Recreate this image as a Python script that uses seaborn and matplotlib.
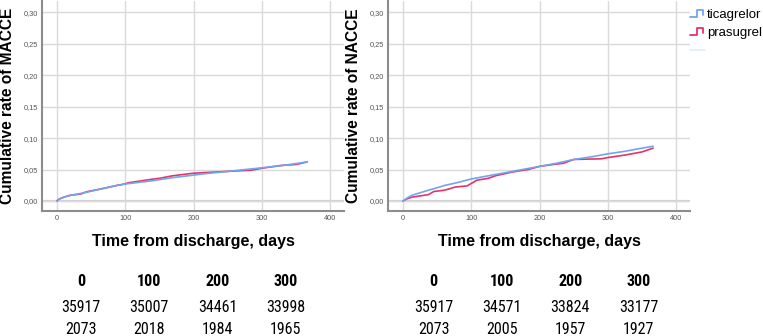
import numpy as np
import pandas as pd
import matplotlib
matplotlib.use('Agg')
import matplotlib.pyplot as plt
import matplotlib.transforms as mtransforms
from matplotlib import font_manager
from matplotlib.lines import Line2D
from matplotlib.legend_handler import HandlerLine2D
import seaborn as sns

sns.set_style('white')
plt.rcParams['font.family'] = ['Liberation Sans', 'DejaVu Sans']
plt.rcParams['text.color'] = 'black'
plt.rcParams['axes.labelcolor'] = 'black'

# MACCE curves (left panel)
macce_tica_days = [0, 3, 10, 20, 40, 64, 89, 100, 139, 169, 199, 214, 250, 285, 328, 366]
macce_tica_rate = [0, 0.003, 0.006, 0.009, 0.013, 0.019, 0.025, 0.027, 0.032, 0.037, 0.041, 0.043,
                   0.047, 0.051, 0.056, 0.062]
macce_pras_days = [0, 3, 10, 19, 35, 39, 45, 64, 89, 95, 105, 139, 150, 169, 199, 214, 250, 285,
                   300, 328, 350, 366]
macce_pras_rate = [0, 0.003, 0.006, 0.009, 0.011, 0.013, 0.015, 0.019, 0.025, 0.026, 0.029, 0.0345,
                   0.036, 0.040, 0.044, 0.045, 0.047, 0.049, 0.052, 0.0565, 0.058, 0.062]

# NACCE curves (right panel)
nacce_tica_days = [0, 5, 13, 25, 37, 50, 62, 75, 86, 100, 125, 150, 175, 200, 225, 250, 275, 300,
                   325, 350, 366]
nacce_tica_rate = [0, 0.004, 0.009, 0.013, 0.017, 0.021, 0.025, 0.028, 0.031, 0.035, 0.040, 0.045,
                   0.050, 0.055, 0.060, 0.066, 0.070, 0.075, 0.079, 0.084, 0.087]
nacce_pras_days = [0, 5, 13, 25, 37, 45, 60, 67, 76, 94, 108, 125, 135, 160, 183, 200, 220, 235,
                   250, 290, 300, 325, 350, 366]
nacce_pras_rate = [0, 0.003, 0.006, 0.008, 0.010, 0.015, 0.017, 0.019, 0.022, 0.024, 0.033, 0.036,
                   0.040, 0.046, 0.050, 0.055, 0.058, 0.060, 0.066, 0.067, 0.069, 0.073, 0.078, 0.084]

# numbers at risk
risk_days = [0, 100, 200, 300]
macce_risk_tica = [35917, 35007, 34461, 33998]
macce_risk_pras = [2073, 2018, 1984, 1965]
nacce_risk_tica = [35917, 34571, 33824, 33177]
nacce_risk_pras = [2073, 2005, 1957, 1927]

groups = ['ticagrelor', 'prasugrel']
colors = {'ticagrelor': '#6fa6ec', 'prasugrel': '#e6336a'}

# narrow font for the at-risk table if one is around
installed = {f.name for f in font_manager.fontManager.ttflist}
narrow = None
for name in ['Liberation Sans Narrow', 'DejaVu Sans Condensed', 'Roboto Condensed',
             'Open Sans Condensed', 'Noto Sans Condensed']:
    if name in installed:
        narrow = name
        break
if narrow is None:
    table_font = dict(family=['Liberation Sans'], fontsize=10.2)
else:
    table_font = dict(family=[narrow, 'Liberation Sans'], fontsize=11.5)


def make_df(tica_d, tica_r, pras_d, pras_r):
    a = pd.DataFrame({'days': tica_d, 'rate': tica_r, 'drug': 'ticagrelor'})
    b = pd.DataFrame({'days': pras_d, 'rate': pras_r, 'drug': 'prasugrel'})
    return pd.concat([a, b], ignore_index=True)


W, H = 763, 336
fig = plt.figure(figsize=(W / 100, H / 100), dpi=100)

panels = [
    (42, make_df(macce_tica_days, macce_tica_rate, macce_pras_days, macce_pras_rate),
     'Cumulative rate of MACCE', macce_risk_tica, macce_risk_pras, 35),
    (388, make_df(nacce_tica_days, nacce_tica_rate, nacce_pras_days, nacce_pras_rate),
     'Cumulative rate of NACCE', nacce_risk_tica, nacce_risk_pras, 45),
]

for left, df, ylab, risk1, risk2, shift in panels:
    ax = fig.add_axes([left / W, (H - 211) / H, 302 / W, 210 / H])
    sns.lineplot(data=df, x='days', y='rate', hue='drug', hue_order=groups[::-1],
                 palette=colors, estimator=None, lw=1.2, legend=False, ax=ax)
    ax.set_xlim(-22, 420)
    ax.set_ylim(-0.016, 0.318)
    ax.set_xticks([0, 100, 200, 300, 400])
    ax.set_yticks(np.arange(0, 0.31, 0.05))
    ax.set_yticklabels([f'{v:.2f}'.replace('.', ',') for v in np.arange(0, 0.31, 0.05)])
    ax.grid(True, color='#dadada', lw=1)
    ax.axhline(0, color='#d2d2d2', lw=1.6, zorder=0)
    ax.set_axisbelow(True)
    ax.tick_params(length=0, labelsize=5.3, labelcolor='#555555', pad=3)
    for s in ['top', 'right']:
        ax.spines[s].set_visible(False)
    for s in ['left', 'bottom']:
        ax.spines[s].set_color('#8c8c8c')
        ax.spines[s].set_linewidth(1.5)
    ax.set_ylabel(ylab, fontsize=11.2, fontweight='bold', color='black')
    ax.yaxis.set_label_coords(-27 / 302, 0.5)
    ax.set_xlabel('Time from discharge, days', fontsize=11.5, fontweight='bold', va='top',
                  color='black')
    ax.xaxis.set_label_coords(0.5, -23 / 210)

    # numbers at risk table under the panel
    trans = mtransforms.blended_transform_factory(ax.transData, fig.transFigure)
    for d, n1, n2 in zip(risk_days, risk1, risk2):
        x = d + shift
        ax.text(x, 1 - 282 / H, str(d), transform=trans, ha='center', va='center',
                fontweight='bold', color='black', **table_font)
        ax.text(x, 1 - 307 / H, str(n1), transform=trans, ha='center', va='center',
                color='black', **table_font)
        ax.text(x, 1 - 330 / H, str(n2), transform=trans, ha='center', va='center',
                color='black', **table_font)


class StepHandler(HandlerLine2D):
    def create_artists(self, legend, orig_handle, xdescent, ydescent, width, height, fontsize, trans):
        if orig_handle.get_label() == 'blank':
            xs = np.array([0, 1.0]) * width - xdescent
            ys = np.array([0.5, 0.5]) * height - ydescent
        else:
            xs = np.array([0, 0.45, 0.45, 0.9, 0.9]) * width - xdescent
            ys = np.array([0.1, 0.1, 0.9, 0.9, 0.35]) * height - ydescent
        line = Line2D(xs, ys, color=orig_handle.get_color(), lw=orig_handle.get_linewidth())
        line.set_transform(trans)
        return [line]


handles = [Line2D([], [], color=colors[g], lw=1.3) for g in groups]
handles.append(Line2D([], [], color='#e3edf9', lw=1.3, label='blank'))
fig.legend(handles, groups + [''], loc='upper left', bbox_to_anchor=(690 / W, 1 - 9 / H),
           frameon=False, fontsize=9.5, handlelength=1.1, handletextpad=0.2,
           labelspacing=0.45, borderpad=0, borderaxespad=0,
           handler_map={Line2D: StepHandler()})

fig.savefig('out.png', dpi=100)
